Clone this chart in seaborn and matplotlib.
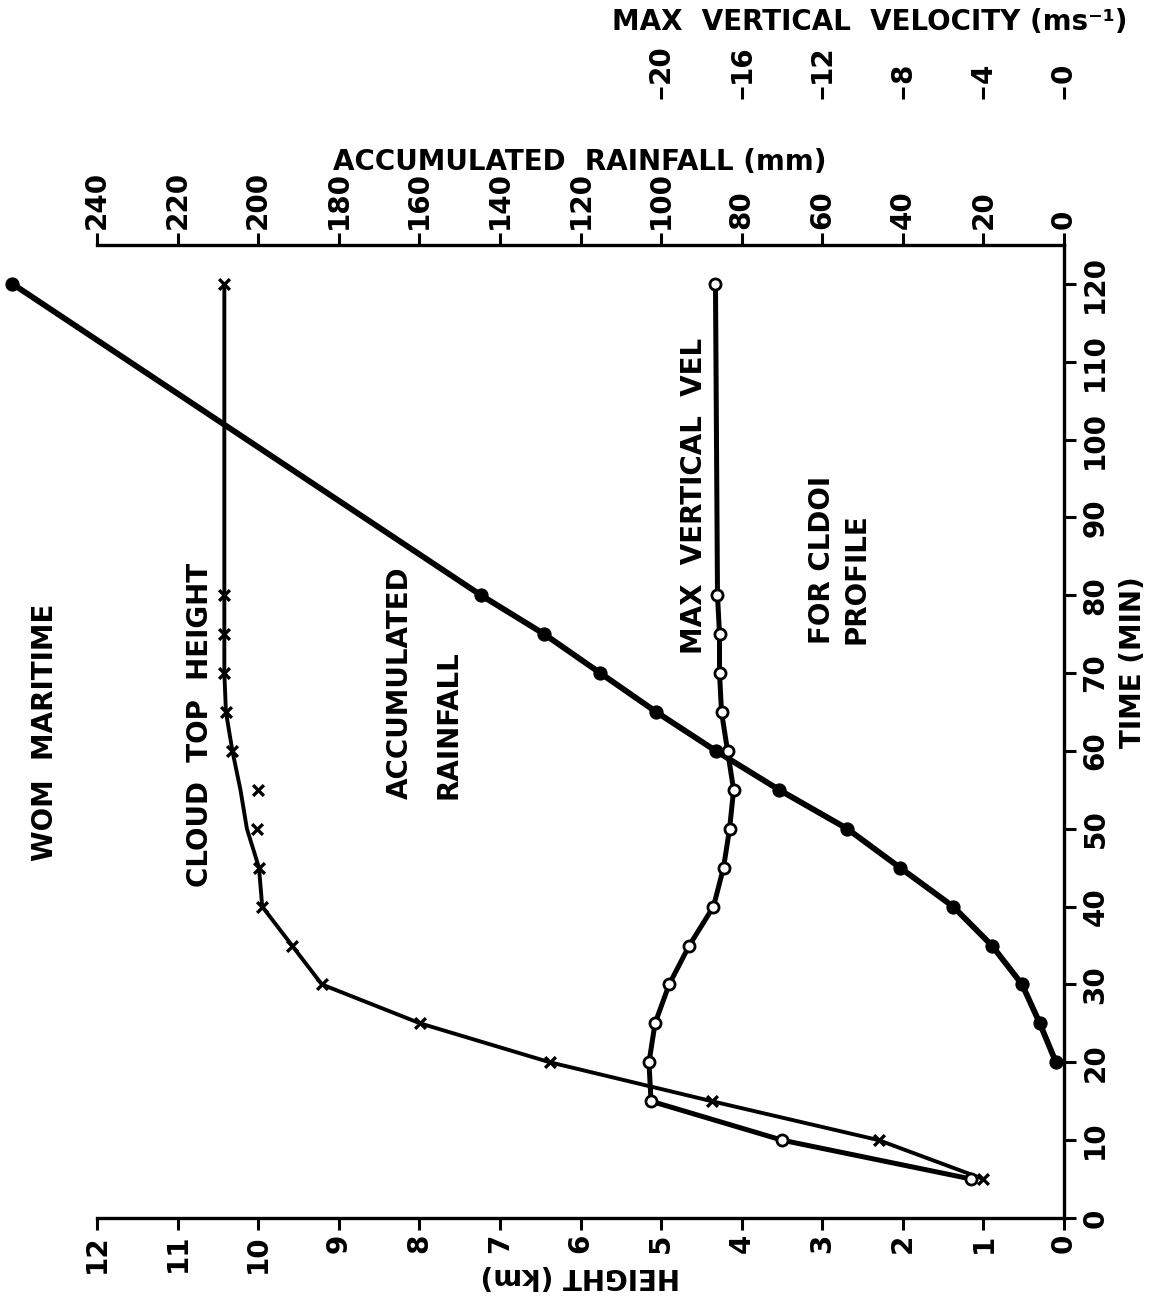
import matplotlib
matplotlib.use("Agg")
import matplotlib.pyplot as plt
import seaborn as sns
import pandas as pd

# ---- data -------------------------------------------------------------
# Cloud top height (km), one marker every 5 min up to 80 min, then 120 min
cloud_time = [5, 10, 15, 20, 25, 30, 35, 40, 45, 50, 55, 60, 65, 70, 75, 80, 120]
cloud_top_marks = [1.0, 2.3, 4.37, 6.38, 7.99, 9.21, 9.58, 9.95, 9.99,
                   10.02, 10.0, 10.32, 10.40, 10.42, 10.42, 10.42, 10.42]
# hand-faired curve through the cloud top points
cloud_top_curve = [1.0, 2.3, 4.37, 6.38, 7.99, 9.21, 9.58, 9.95, 9.99,
                   10.14, 10.22, 10.32, 10.40, 10.42, 10.42, 10.42, 10.42]

# Accumulated rainfall (mm)
rain_time = [20, 25, 30, 35, 40, 45, 50, 55, 60, 65, 70, 75, 80, 120]
rain_mm = [2, 6, 10.4, 17.9, 27.5, 40.7, 53.8, 70.7, 86.4, 101.2,
           115.1, 129.0, 144.7, 261.0]

# Maximum vertical velocity (m/s)
vel_time = [5, 10, 15, 20, 25, 30, 35, 40, 45, 50, 55, 60, 65, 70, 75, 80, 120]
vel_ms = [-4.6, -14.0, -20.5, -20.6, -20.3, -19.6, -18.6, -17.4, -16.9,
          -16.6, -16.4, -16.7, -17.0, -17.1, -17.1, -17.2, -17.3]

height_ticks = list(range(0, 13))
time_ticks = list(range(0, 121, 10))
rain_ticks = list(range(0, 241, 20))
vel_ticks = [-20, -16, -12, -8, -4, 0]
vel_tick_labels = ["20", "16", "12", "8", "4", "0"]

# ---- style ------------------------------------------------------------
sns.set_theme(style="white")
plt.rcParams["font.family"] = ["DejaVu Sans"]
plt.rcParams["font.weight"] = "bold"
for key in ("text.color", "axes.labelcolor", "xtick.color", "ytick.color",
            "axes.edgecolor"):
    plt.rcParams[key] = "black"

FS = 20
TICK = dict(direction="out", length=8.5, width=2.2, labelsize=FS)

fig = plt.figure(figsize=(11.55, 13.0), dpi=100)
ax = fig.add_axes([0.084, 0.0631, 0.8372, 0.7485])
ax_rain = ax.twiny()
ax_vel = ax.twiny()

# ---- curves -----------------------------------------------------------
cloud_df = pd.DataFrame({"h": cloud_top_curve, "t": cloud_time})
sns.lineplot(data=cloud_df, x="h", y="t", sort=False, estimator=None,
             ax=ax, color="black", lw=2.8)
sns.scatterplot(x=cloud_top_marks, y=cloud_time, ax=ax, marker="x",
                color="black", s=60, linewidth=2.4, zorder=4)

rain_df = pd.DataFrame({"r": rain_mm, "t": rain_time})
sns.lineplot(data=rain_df, x="r", y="t", sort=False, estimator=None,
             ax=ax_rain, color="black", lw=4.2, marker="o", markersize=9.5,
             markeredgecolor="black", markerfacecolor="black", clip_on=False)

vel_df = pd.DataFrame({"v": vel_ms, "t": vel_time})
sns.lineplot(data=vel_df, x="v", y="t", sort=False, estimator=None,
             ax=ax_vel, color="black", lw=3.6, marker="o", markersize=8,
             markeredgewidth=2.0, markeredgecolor="black",
             markerfacecolor="white")

# ---- axes -------------------------------------------------------------
ax.set_xlim(12, 0)
ax.set_ylim(0, 125)
ax_rain.set_xlim(240, 0)
ax_vel.set_xlim(-48, 0)
for a in (ax, ax_rain, ax_vel):
    a.set_xlabel("")
    a.set_ylabel("")
    a.set_ylim(0, 125)

for side in ("left", "top"):
    ax.spines[side].set_visible(False)
for side in ("bottom", "right"):
    ax.spines[side].set_linewidth(2.4)
for side in ("left", "right", "bottom"):
    ax_rain.spines[side].set_visible(False)
ax_rain.spines["top"].set_linewidth(2.4)
for side in ("left", "right", "bottom", "top"):
    ax_vel.spines[side].set_visible(False)
ax_vel.spines["top"].set_position(("axes", 1.150))

# height axis (bottom)
ax.set_xticks(height_ticks)
ax.set_xticklabels([str(v) for v in height_ticks])
ax.tick_params(axis="x", bottom=True, top=False, labelrotation=90, pad=3, **TICK)

# time axis (right)
ax.yaxis.tick_right()
ax.set_yticks(time_ticks)
ax.set_yticklabels([str(v) for v in time_ticks])
ax.tick_params(axis="y", right=True, left=False, labelrotation=90, pad=4, **TICK)
for lab in ax.get_yticklabels():
    lab.set_va("center")

# rainfall axis (top)
ax_rain.set_xticks(rain_ticks)
ax_rain.set_xticklabels([str(v) for v in rain_ticks])
ax_rain.tick_params(axis="x", top=True, bottom=False, labelrotation=90, pad=3, **TICK)
ax_rain.tick_params(axis="y", left=False, right=False, labelleft=False,
                    labelright=False)

# max vertical velocity axis (top, no axis line)
ax_vel.set_xticks(vel_ticks)
ax_vel.set_xticklabels(vel_tick_labels)
ax_vel.tick_params(axis="x", top=True, bottom=False, labelrotation=90, pad=3, **TICK)
ax_vel.tick_params(axis="y", left=False, right=False, labelleft=False,
                   labelright=False)

# ---- axis titles ------------------------------------------------------
fig.text(870 / 1155, 1 - 22 / 1300, "MAX  VERTICAL  VELOCITY (ms\u207b\u00b9)",
         ha="center", va="center", fontsize=FS)
fig.text(580 / 1155, 1 - 162 / 1300, "ACCUMULATED  RAINFALL (mm)",
         ha="center", va="center", fontsize=FS)
fig.text(580 / 1155, 1 - 1276 / 1300, "HEIGHT (km)", rotation=180,
         ha="center", va="center", fontsize=FS)
fig.text(1133 / 1155, 1 - 662 / 1300, "TIME (MIN)", rotation=90,
         ha="center", va="center", fontsize=FS)

# ---- curve labels -----------------------------------------------------
ax.text(12.64, 62.4, "WOM  MARITIME", rotation=90, ha="center", va="center",
        fontsize=FS, clip_on=False)
ax.text(10.72, 63.3, "CLOUD  TOP  HEIGHT", rotation=90, ha="center",
        va="center", fontsize=FS)
ax.text(7.94, 53.8, "ACCUMULATED\nRAINFALL", rotation=90, ha="center",
        va="bottom", multialignment="left", linespacing=1.9, fontsize=FS)
ax.text(4.59, 92.7, "MAX  VERTICAL  VEL", rotation=90, ha="center",
        va="center", fontsize=FS)
ax.text(2.79, 73.7, "FOR CLDOI\nPROFILE", rotation=90, ha="center",
        va="bottom", multialignment="left", linespacing=1.3, fontsize=FS)

fig.savefig("out.png", dpi=100, facecolor="white")
